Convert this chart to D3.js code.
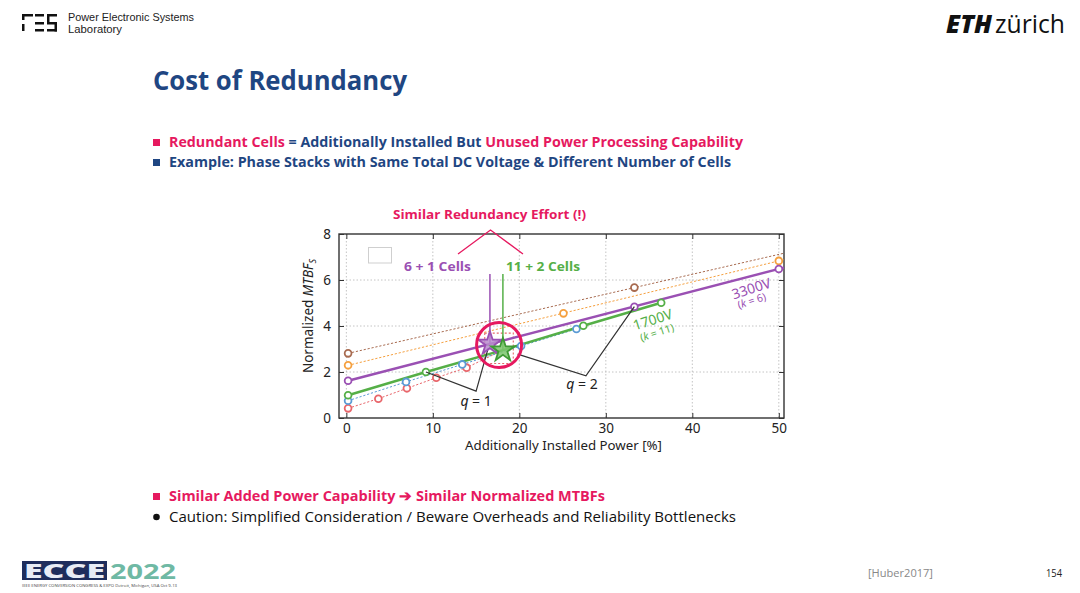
<!DOCTYPE html>
<html>
<head>
<meta charset="utf-8">
<script src="https://cdn.jsdelivr.net/npm/d3@7"></script>
<style>
  html, body { margin: 0; padding: 0; background: #fff; }
  svg { display: block; }
  .slide { font-family: 'Open Sans', 'Noto Sans', sans-serif; }
  .plot text { font-family: 'Noto Sans', 'Open Sans', sans-serif; }
  .hdr { font-family: 'Liberation Sans', Arial, sans-serif; }
</style>
</head>
<body>
<div id="slide"></div>
<script>
// axis ticks
const xTicks = [0, 10, 20, 30, 40, 50];
const yTicks = [0, 2, 4, 6, 8];
const xDomain = [-0.85, 50.6];
const yDomain = [0, 8];

// series: [additional power %, normalized MTBF_S]
const redPoints = [[0.2, 0.42], [3.7, 0.84], [7.0, 1.29], [10.4, 1.75], [13.9, 2.19]];
const bluePoints = [[0.2, 0.75], [6.9, 1.57], [13.4, 2.33], [20.2, 3.13], [26.6, 3.87]];
const orangePoints = [[0.2, 2.29], [25.1, 4.55], [50.0, 6.83]];
const brownPoints = [[0.2, 2.81], [33.3, 5.67]];
const greenPoints = [[0.2, 0.99], [9.2, 2.0], [27.4, 4.01], [36.4, 5.01]];
const purplePoints = [[0.2, 1.62], [33.3, 4.84], [50.0, 6.48]];
const greenStar = [18.1, 2.95];
const purpleStar = [16.6, 3.24];

// annotation geometry in data units
const q1Path = [[9.2, 2.0], [15.0, 1.17], [16.4, 3.04]];
const q2Path = [[19.8, 2.78], [27.7, 1.83], [33.3, 4.84]];
const focusBox = [[16.0, 2.37], [19.3, 3.69]];
const focusCircle = [17.66, 3.17];

const colors = {
  red: '#e8666b', blue: '#5b9bd5', orange: '#f5a03f', brown: '#a86b50',
  green: '#55af47', purple: '#9a50b3', pink: '#e6195f', navy: '#1f4682'
};

const W = 1080, H = 593;
const plot = { left: 339, right: 784, top: 234, bottom: 418 };

const svg = d3.select('#slide').append('svg')
  .attr('width', W).attr('height', H)
  .attr('class', 'slide');

const fitText = (sel, len) => sel.attr('textLength', len).attr('lengthAdjust', 'spacingAndGlyphs');

// ---------- header ----------
const pes = svg.append('g').attr('fill', '#111');
[[22, 14, 11, 2.5], [22, 14, 2.5, 6], [22, 24, 2.5, 7],
 [35, 14, 9, 2.5], [35, 22, 9, 2.5], [35, 29, 9, 2.5],
 [47, 14, 10, 2.5], [47, 14, 2.5, 9], [47, 22, 10, 2.5], [54.5, 22, 2.5, 9.5], [47, 29, 10, 2.5]]
  .forEach(r => pes.append('rect').attr('x', r[0]).attr('y', r[1]).attr('width', r[2]).attr('height', r[3]));

svg.append('text').attr('class', 'hdr').attr('x', 68).attr('y', 21).attr('font-size', 10.5).attr('fill', '#222')
  .text('Power Electronic Systems').call(fitText, 126);
svg.append('text').attr('class', 'hdr').attr('x', 68).attr('y', 33).attr('font-size', 10.5).attr('fill', '#222')
  .text('Laboratory').call(fitText, 54);

svg.append('text').attr('x', 946).attr('y', 33).attr('font-size', 25).attr('font-weight', 800)
  .attr('font-style', 'italic').attr('fill', '#111').text('ETH').call(fitText, 46);
svg.append('text').attr('x', 995).attr('y', 33).attr('font-size', 25).attr('fill', '#111')
  .text('zürich').call(fitText, 70);

svg.append('text').attr('x', 153).attr('y', 90).attr('font-size', 26).attr('font-weight', 700)
  .attr('fill', colors.navy).text('Cost of Redundancy').call(fitText, 254);

// ---------- bullets ----------
const bulletSquare = (y, c) => svg.append('rect').attr('x', 153).attr('y', y - 8)
  .attr('width', 7).attr('height', 7).attr('fill', c);

bulletSquare(147, colors.pink);
const b1 = svg.append('text').attr('x', 169).attr('y', 147).attr('font-size', 14.5).attr('font-weight', 700);
b1.append('tspan').attr('fill', colors.pink).text('Redundant Cells');
b1.append('tspan').attr('fill', colors.navy).text(' = Additionally Installed But ');
b1.append('tspan').attr('fill', colors.pink).text('Unused Power Processing Capability');
b1.call(fitText, 574);

bulletSquare(167, colors.navy);
svg.append('text').attr('x', 169).attr('y', 167).attr('font-size', 14.5).attr('font-weight', 700)
  .attr('fill', colors.navy)
  .text('Example: Phase Stacks with Same Total DC Voltage & Different Number of Cells')
  .call(fitText, 562);

bulletSquare(501, colors.pink);
svg.append('text').attr('x', 169).attr('y', 501).attr('font-size', 14.5).attr('font-weight', 700)
  .attr('fill', colors.pink)
  .text('Similar Added Power Capability \u2794 Similar Normalized MTBFs')
  .call(fitText, 436);

svg.append('circle').attr('cx', 156.5).attr('cy', 517).attr('r', 3.3).attr('fill', '#111');
svg.append('text').attr('x', 169).attr('y', 522).attr('font-size', 14.5).attr('fill', '#111')
  .text('Caution: Simplified Consideration / Beware Overheads and Reliability Bottlenecks')
  .call(fitText, 567);

// ---------- footer ----------
svg.append('text').attr('x', 868).attr('y', 577).attr('font-size', 10.5).attr('fill', '#888')
  .text('[Huber2017]').call(fitText, 65);
svg.append('text').attr('x', 1046).attr('y', 577).attr('font-size', 10.5).attr('fill', '#222')
  .text('154').call(fitText, 16);

const ecce = svg.append('g');
ecce.append('rect').attr('x', 22).attr('y', 561).attr('width', 85).attr('height', 19).attr('fill', '#1e2d5c');
ecce.append('text').attr('x', 24).attr('y', 578).attr('font-size', 20).attr('font-weight', 800)
  .attr('fill', '#e8ecf5').text('ECCE').call(fitText, 81);
ecce.append('text').attr('x', 110).attr('y', 579).attr('font-size', 21).attr('font-weight', 700)
  .attr('fill', '#6fb9a4').text('2022').call(fitText, 66);
ecce.append('text').attr('x', 22).attr('y', 587).attr('font-size', 4).attr('fill', '#444')
  .text('IEEE ENERGY CONVERSION CONGRESS & EXPO   Detroit, Michigan, USA Oct 9-13').call(fitText, 155);

// ---------- chart ----------
const g = svg.append('g').attr('class', 'plot');
const x = d3.scaleLinear().domain(xDomain).range([plot.left, plot.right]);
const y = d3.scaleLinear().domain(yDomain).range([plot.bottom, plot.top]);

// grid
g.append('g').selectAll('line').data(xTicks).enter().append('line')
  .attr('x1', d => x(d)).attr('x2', d => x(d)).attr('y1', plot.top).attr('y2', plot.bottom)
  .attr('stroke', '#b5b5b5').attr('stroke-width', 0.8).attr('stroke-dasharray', '1.5,2');
g.append('g').selectAll('line').data(yTicks.slice(1, -1)).enter().append('line')
  .attr('x1', plot.left).attr('x2', plot.right).attr('y1', d => y(d)).attr('y2', d => y(d))
  .attr('stroke', '#b5b5b5').attr('stroke-width', 0.8).attr('stroke-dasharray', '1.5,2');

// axes
const xAxis = d3.axisBottom(x).tickValues(xTicks).tickSize(-5).tickPadding(5);
const yAxis = d3.axisLeft(y).tickValues(yTicks).tickSize(-5).tickPadding(8);
g.append('g').attr('transform', `translate(0,${plot.bottom})`).call(xAxis)
  .call(a => a.select('.domain').remove())
  .call(a => a.selectAll('text').attr('font-size', 13.5).attr('fill', '#222'))
  .call(a => a.selectAll('line').attr('stroke', '#333'));
g.append('g').attr('transform', `translate(${plot.left},0)`).call(yAxis)
  .call(a => a.select('.domain').remove())
  .call(a => a.selectAll('text').attr('font-size', 13.5).attr('fill', '#222'))
  .call(a => a.selectAll('line').attr('stroke', '#333'));
g.append('g').attr('transform', `translate(0,${plot.top})`)
  .call(d3.axisTop(x).tickValues(xTicks).tickSize(-5).tickFormat(''))
  .call(a => a.select('.domain').remove()).call(a => a.selectAll('line').attr('stroke', '#333'));
g.append('g').attr('transform', `translate(${plot.right},0)`)
  .call(d3.axisRight(y).tickValues(yTicks).tickSize(-5).tickFormat(''))
  .call(a => a.select('.domain').remove()).call(a => a.selectAll('line').attr('stroke', '#333'));

g.append('rect').attr('x', plot.left).attr('y', plot.top)
  .attr('width', plot.right - plot.left).attr('height', plot.bottom - plot.top)
  .attr('fill', 'none').attr('stroke', '#333').attr('stroke-width', 1.4);

g.append('text').attr('x', 563.5).attr('y', 450).attr('text-anchor', 'middle')
  .attr('font-size', 13).attr('fill', '#222')
  .text('Additionally Installed Power [%]').call(fitText, 197);

const yl = g.append('text').attr('transform', 'translate(313,316) rotate(-90)')
  .attr('text-anchor', 'middle').attr('font-size', 13.5).attr('fill', '#222');
yl.append('tspan').text('Normalized ');
yl.append('tspan').attr('font-style', 'italic').text('MTBF');
yl.append('tspan').attr('font-style', 'italic').attr('font-size', 9).attr('dy', 3).text('S');

// empty legend box
g.append('rect').attr('x', 368.5).attr('y', 247.5).attr('width', 23).attr('height', 15.5)
  .attr('fill', '#fff').attr('stroke', '#cfcfcf');

const line = d3.line().x(d => x(d[0])).y(d => y(d[1]));

// extend a fitted series line to the right frame
const extendRight = (pts) => {
  const a = pts[0], b = pts[pts.length - 1];
  const s = (b[1] - a[1]) / (b[0] - a[0]);
  return [a, [xDomain[1], a[1] + s * (xDomain[1] - a[0])]];
};

const dotted = [
  { pts: redPoints, c: colors.red, path: redPoints.concat([greenStar]) },
  { pts: bluePoints, c: colors.blue, path: bluePoints },
  { pts: orangePoints, c: colors.orange, path: extendRight(orangePoints) },
  { pts: brownPoints, c: colors.brown, path: extendRight(brownPoints) }
];

// focus box (red dotted)
g.append('rect').attr('x', x(focusBox[0][0])).attr('y', y(focusBox[1][1]))
  .attr('width', x(focusBox[1][0]) - x(focusBox[0][0]))
  .attr('height', y(focusBox[0][1]) - y(focusBox[1][1]))
  .attr('fill', 'none').attr('stroke', colors.red).attr('stroke-width', 1.1).attr('stroke-dasharray', '2,2');

dotted.forEach(s => {
  g.append('path').datum(s.path).attr('d', line).attr('fill', 'none')
    .attr('stroke', s.c).attr('stroke-width', 1).attr('stroke-dasharray', '2.2,1.8');
});

// solid series
g.append('path').datum([greenPoints[0], greenPoints[1], greenStar, greenPoints[2], greenPoints[3]])
  .attr('d', line).attr('fill', 'none').attr('stroke', colors.green).attr('stroke-width', 2.4);
g.append('path').datum(extendRight([purplePoints[0], purpleStar, purplePoints[1], purplePoints[2]]))
  .attr('d', line).attr('fill', 'none').attr('stroke', colors.purple).attr('stroke-width', 2.4);

// markers
const allMarkers = dotted.map(s => ({ pts: s.pts, c: s.c }))
  .concat([{ pts: greenPoints, c: colors.green }, { pts: purplePoints, c: colors.purple }]);
allMarkers.forEach(s => {
  g.append('g').selectAll('circle').data(s.pts).enter().append('circle')
    .attr('cx', d => x(d[0])).attr('cy', d => y(d[1])).attr('r', 3.4)
    .attr('fill', '#fff').attr('stroke', s.c).attr('stroke-width', 1.8);
});

// q callouts
[q1Path, q2Path].forEach(p => {
  g.append('path').datum(p).attr('d', line).attr('fill', 'none')
    .attr('stroke', '#333').attr('stroke-width', 1.2);
});
const qLabel = (pos, n) => {
  const t = g.append('text').attr('x', x(pos[0])).attr('y', y(pos[1]) + 5)
    .attr('text-anchor', 'middle').attr('font-size', 14).attr('fill', '#222');
  t.append('tspan').attr('font-style', 'italic').text('q');
  t.append('tspan').text(' = ' + n);
};
qLabel([15.0, 0.74], 1);
qLabel([27.25, 1.48], 2);

// vertical pointer lines from cell labels
g.append('line').attr('x1', x(purpleStar[0])).attr('x2', x(purpleStar[0]))
  .attr('y1', 274).attr('y2', y(purpleStar[1])).attr('stroke', colors.purple).attr('stroke-width', 1.5);
g.append('line').attr('x1', x(greenStar[0])).attr('x2', x(greenStar[0]))
  .attr('y1', 274).attr('y2', y(greenStar[1])).attr('stroke', colors.green).attr('stroke-width', 1.5);

// stars
const star = d3.symbol().type(d3.symbolStar).size(170);
g.append('path').attr('d', star).attr('transform', `translate(${x(purpleStar[0])},${y(purpleStar[1])})`)
  .attr('fill', '#b98ccc').attr('fill-opacity', 0.85).attr('stroke', colors.purple).attr('stroke-width', 1.8);
g.append('path').attr('d', star).attr('transform', `translate(${x(greenStar[0])},${y(greenStar[1])})`)
  .attr('fill', '#7cc56d').attr('fill-opacity', 0.85).attr('stroke', '#3f9a35').attr('stroke-width', 1.8);

g.append('circle').attr('cx', x(focusCircle[0])).attr('cy', y(focusCircle[1])).attr('r', 22.5)
  .attr('fill', 'none').attr('stroke', colors.pink).attr('stroke-width', 3);

// voltage labels
const voltLabel = (pos, sub, txt, k, c, rot) => {
  g.append('text').attr('transform', `translate(${x(pos[0])},${y(pos[1]) + 5}) rotate(${rot})`)
    .attr('text-anchor', 'middle').attr('font-size', 14).attr('fill', c).text(txt);
  const t = g.append('text').attr('transform', `translate(${x(sub[0])},${y(sub[1]) + 4}) rotate(${rot})`)
    .attr('text-anchor', 'middle').attr('font-size', 10.5).attr('fill', c);
  t.append('tspan').text('(');
  t.append('tspan').attr('font-style', 'italic').text('k');
  t.append('tspan').text(' = ' + k + ')');
};
voltLabel([47.0, 5.64], [47.0, 5.12], '3300V', 6, colors.purple, -18);
voltLabel([35.6, 4.29], [36.05, 3.74], '1700V', 11, colors.green, -18);

// top annotations
svg.append('path').attr('d', 'M458,254 L490.5,230 L523,254').attr('fill', 'none')
  .attr('stroke', colors.pink).attr('stroke-width', 1.3);
svg.append('text').attr('x', 489.5).attr('y', 219).attr('text-anchor', 'middle')
  .attr('font-size', 13).attr('font-weight', 700).attr('fill', colors.pink)
  .text('Similar Redundancy Effort (!)').call(fitText, 193);
svg.append('text').attr('x', 404).attr('y', 271).attr('font-size', 13).attr('font-weight', 700)
  .attr('fill', colors.purple).text('6 + 1 Cells').call(fitText, 67);
svg.append('text').attr('x', 506).attr('y', 271).attr('font-size', 13).attr('font-weight', 700)
  .attr('fill', colors.green).text('11 + 2 Cells').call(fitText, 74);
</script>
</body>
</html>
